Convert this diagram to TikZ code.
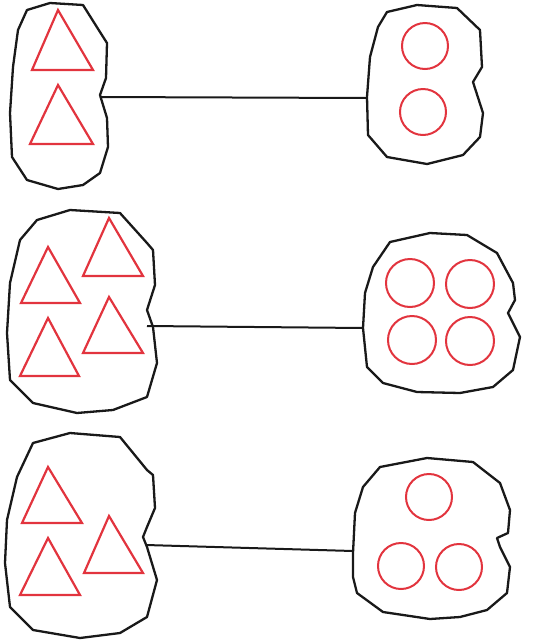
\documentclass[tikz,border=0pt]{standalone}
\usepackage{xcolor}
\usepackage{tikz}
\definecolor{shapered}{RGB}{226, 52, 62}
\definecolor{blobline}{RGB}{25, 25, 25}

\begin{document}
\begin{tikzpicture}[x=1pt, y=-1pt,
		blob/.style={draw=blobline, line width=2.3pt, line join=round},
		tri/.style={draw=shapered, line width=2.2pt, line join=miter},
		ring/.style={draw=shapered, line width=2pt},
		link/.style={draw=blobline, line width=2pt}]
		\useasboundingbox (0,0) rectangle (540,641);

		% first pair
		\draw[blob] (27,10) -- (50,3) -- (83,5) -- (100,32) -- (107,43) -- (106,78) -- (100,95) -- (107,118) -- (108,147) -- (100,173) -- (83,185) -- (58,189) -- (27,180) -- (12,157) -- (10,113) -- (13,67) -- (18,30) -- cycle;
		\coordinate (twoA) at (100,97);
		\draw[tri] (58,10) -- (32,70) -- (93,70) -- cycle;
		\draw[tri] (58,85) -- (30,144) -- (93,144) -- cycle;

		\draw[blob] (387,12) -- (417,5) -- (457,8) -- (480,30) -- (482,67) -- (473,82) -- (483,113) -- (480,137) -- (463,155) -- (427,164) -- (387,157) -- (368,135) -- (367,97) -- (370,57) -- (378,27) -- cycle;
		\coordinate (twoB) at (367,98);
		\draw[ring] (425,46) circle[radius=23pt];
		\draw[ring] (423,112) circle[radius=23pt];

		\draw[link] (twoA) -- (twoB);

		% second pair
		\draw[blob] (37,220) -- (70,210) -- (120,213) -- (147,243) -- (153,250) -- (155,285) -- (147,310) -- (153,327) -- (157,363) -- (147,397) -- (113,410) -- (77,413) -- (33,403) -- (10,380) -- (7,333) -- (10,283) -- (20,240) -- cycle;
		\coordinate (fourA) at (147,326);
		\draw[tri] (48,247) -- (21,303) -- (80,303) -- cycle;
		\draw[tri] (109,218) -- (83,276) -- (143,276) -- cycle;
		\draw[tri] (109,297) -- (83,353) -- (143,353) -- cycle;
		\draw[tri] (48,318) -- (20,376) -- (79,376) -- cycle;

		\draw[blob] (390,242) -- (430,233) -- (467,235) -- (497,253) -- (513,283) -- (515,300) -- (508,313) -- (520,337) -- (513,370) -- (493,387) -- (460,393) -- (417,392) -- (383,383) -- (367,367) -- (363,328) -- (365,293) -- (373,267) -- cycle;
		\coordinate (fourB) at (363,328);
		\draw[ring] (410,283) circle[radius=24pt];
		\draw[ring] (470,284) circle[radius=24pt];
		\draw[ring] (412,340) circle[radius=24pt];
		\draw[ring] (470,341) circle[radius=24pt];

		\draw[link] (fourA) -- (fourB);

		% third pair
		\draw[blob] (33,443) -- (70,433) -- (120,437) -- (147,470) -- (153,475) -- (155,508) -- (147,527) -- (143,537) -- (147,547) -- (157,580) -- (147,617) -- (120,633) -- (80,638) -- (33,630) -- (10,607) -- (5,563) -- (7,520) -- (17,477) -- cycle;
		\coordinate (threeA) at (146,545);
		\draw[tri] (48,467) -- (22,523) -- (82,523) -- cycle;
		\draw[tri] (109,516) -- (84,573) -- (143,573) -- cycle;
		\draw[tri] (48,538) -- (20,595) -- (80,595) -- cycle;

		\draw[blob] (380,467) -- (427,458) -- (473,462) -- (500,483) -- (510,510) -- (508,533) -- (497,538) -- (500,547) -- (510,567) -- (507,593) -- (487,610) -- (460,617) -- (430,619) -- (383,612) -- (357,593) -- (353,577) -- (353,553) -- (355,513) -- (363,487) -- cycle;
		\coordinate (threeB) at (353,551);
		\draw[ring] (429,497) circle[radius=23pt];
		\draw[ring] (401,566) circle[radius=23pt];
		\draw[ring] (459,567) circle[radius=23pt];

		\draw[link] (threeA) -- (threeB);
	\end{tikzpicture}
\end{document}
